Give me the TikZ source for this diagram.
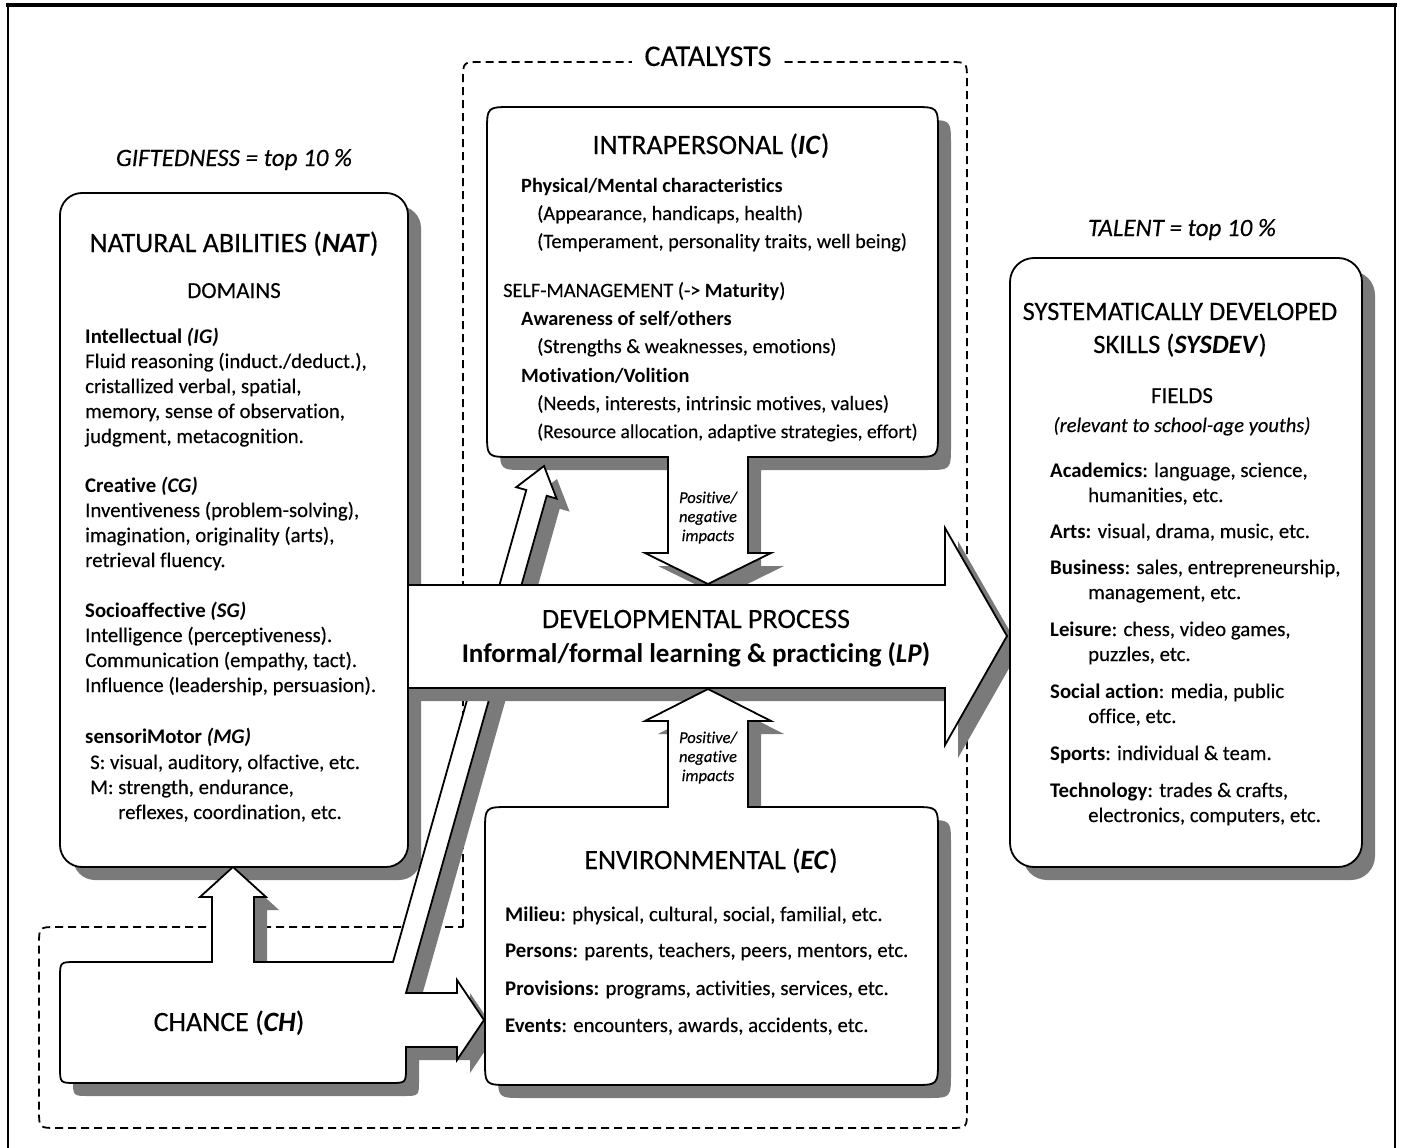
\documentclass[tikz,border=0pt]{standalone}
\usepackage{fontspec}
\setmainfont{Carlito}[Ligatures=NoCommon,UprightFeatures={FakeBold=0.25},ItalicFeatures={FakeBold=0.25}]
\newcommand\pChance{(60,1067) -- (60,978) .. controls (60,962) .. (76,962) -- (212,962) -- (212,897) -- (200,897) -- (233,867) -- (266,897) -- (254,897) -- (254,962) -- (393,962) -- (526.3,490) -- (516.2,487.2) -- (544,466) -- (556.6,498.6) -- (546.7,495.8) -- (406,993) -- (457,993) -- (457,980) -- (484,1020) -- (457,1060) -- (457,1047) -- (406,1047) -- (406,1067) .. controls (406,1083) .. (390,1083) -- (76,1083) .. controls (60,1083) .. (60,1067) -- cycle}
\newcommand\pIC{(512,107) -- (913,107) .. controls (938,107) .. (938,132) -- (938,432) .. controls (938,457) .. (913,457) -- (748,457) -- (748,553) -- (771,553) -- (708,584) -- (645,553) -- (668,553) -- (668,457) -- (512,457) .. controls (487,457) .. (487,432) -- (487,132) .. controls (487,107) .. (512,107) -- cycle}
\newcommand\pEC{(510,807) -- (668,807) -- (668,721) -- (645,721) -- (708,689) -- (771,721) -- (748,721) -- (748,807) -- (913,807) .. controls (938,807) .. (938,832) -- (938,1060) .. controls (938,1085) .. (913,1085) -- (510,1085) .. controls (485,1085) .. (485,1060) -- (485,832) .. controls (485,807) .. (510,807) -- cycle}
\newcommand\pDP{(407,585) -- (945,585) -- (945,528) -- (1007,636) -- (945,745) -- (945,688) -- (407,688) -- cycle}
\newcommand\pNat{(60,193) rectangle (408,867)}
\newcommand\pSys{(1010,258) rectangle (1362,867)}
\begin{document}
\begin{tikzpicture}[x=1pt,y=-1pt,
  shape box/.style={draw=black,line width=1.8,fill=white,line join=miter},
  shad/.style={fill=black!52,draw=none},
  dashb/.style={draw=black,line width=1.8,dash pattern=on 8pt off 5pt},
  ttl/.style={inner sep=0,anchor=base,font=\fontsize{28}{32}\selectfont},
  sub/.style={inner sep=0,anchor=base,font=\fontsize{23}{26}\selectfont},
  body/.style={inner sep=0,anchor=base west,font=\fontsize{20.8}{24}\selectfont},
  icbody/.style={inner sep=0,anchor=base west,font=\fontsize{20.3}{24}\selectfont},
  imp/.style={inner sep=0,anchor=base,font=\fontsize{16.5}{18}\selectfont\itshape},
  lvl/.style={inner sep=0,anchor=base,font=\fontsize{25}{28}\selectfont\itshape}]
\useasboundingbox (0,0) rectangle (1401,1148);
\fill[white] (0,0) rectangle (1401,1148);
% frame
\draw[line width=1.5] (8,1148) -- (8,5);
\draw[line width=1.5] (1395,5) -- (1395,1148);
\draw[line width=3.5] (6,5) -- (1397,5);
% dashed catalysts/chance boundary
\draw[dashb] (463,927) -- (463,80) .. controls (463,62) .. (481,62) -- (949,62) .. controls (967,62) .. (967,80) -- (967,1110) .. controls (967,1128) .. (949,1128) -- (57,1128) .. controls (39,1128) .. (39,1110) -- (39,945) .. controls (39,927) .. (57,927) -- cycle;
% shadows
\begin{scope}[shift={(13,13)}]
  \fill[shad] \pChance;
  \fill[shad] \pIC;
  \fill[shad] \pEC;
  \fill[shad,rounded corners=22] \pNat;
  \fill[shad,rounded corners=24] \pSys;
\end{scope}
% chance shape
\draw[shape box] \pChance;
% developmental process arrow
\fill[shad,shift={(13,13)}] \pDP;
\draw[shape box] \pDP;
% boxes
\draw[shape box,rounded corners=22] \pNat;
\draw[shape box] \pIC;
\draw[shape box] \pEC;
\draw[shape box,rounded corners=24] \pSys;

% outside labels
\node[ttl,font=\fontsize{30}{34}\selectfont,fill=white,inner xsep=12,inner ysep=3] (cat) at (708,66) {CATALYSTS};
\node[lvl] (gift) at (234,166) {GIFTEDNESS = top 10 \%};
\node[lvl] (tal) at (1182,236) {TALENT = top 10 \%};

% NAT
\node[ttl] (natT) at (234,252) {NATURAL ABILITIES (\textbf{\textit{NAT}})};
\node[sub] (dom) at (234,298) {DOMAINS};
\node[body] (n1) at (85,343) {\textbf{Intellectual \textit{(IG)}}};
\node[body] (n2) at (85,368) {Fluid reasoning (induct./deduct.),};
\node[body] (n3) at (85,393) {cristallized verbal, spatial,};
\node[body] (n4) at (85,418) {memory, sense of observation,};
\node[body] (n5) at (85,443) {judgment, metacognition.};
\node[body] (n6) at (85,492) {\textbf{Creative \textit{(CG)}}};
\node[body] (n7) at (85,517) {Inventiveness (problem-solving),};
\node[body] (n8) at (85,542) {imagination, originality (arts),};
\node[body] (n9) at (85,567) {retrieval fluency.};
\node[body] (n10) at (85,617) {\textbf{Socioaffective \textit{(SG)}}};
\node[body] (n11) at (85,642) {Intelligence (perceptiveness).};
\node[body] (n12) at (85,667) {Communication (empathy, tact).};
\node[body] (n13) at (85,692) {Influence (leadership, persuasion).};
\node[body] (n14) at (85,743) {\textbf{sensoriMotor \textit{(MG)}}};
\node[body] (n15) at (90,769) {S: visual, auditory, olfactive, etc.};
\node[body] (n16) at (90,794) {M: strength, endurance,};
\node[body] (n17) at (118,819) {reflexes, coordination, etc.};

% IC
\node[ttl] (icT) at (711,154) {INTRAPERSONAL (\textbf{\textit{IC}})};
\node[icbody] (i1) at (521,192) {\textbf{Physical/Mental characteristics}};
\node[icbody] (i2) at (537,220) {(Appearance, handicaps, health)};
\node[icbody] (i3) at (537,248) {(Temperament, personality traits, well being)};
\node[icbody] (i4) at (503,297) {SELF-MANAGEMENT (-> \textbf{Maturity})};
\node[icbody] (i5) at (521,325) {\textbf{Awareness of self/others}};
\node[icbody] (i6) at (537,353) {(Strengths \& weaknesses, emotions)};
\node[icbody] (i7) at (521,382) {\textbf{Motivation/Volition}};
\node[icbody] (i8) at (537,410) {(Needs, interests, intrinsic motives, values)};
\node[icbody,font=\fontsize{19.6}{24}\selectfont] (i9) at (537,438) {(Resource allocation, adaptive strategies, effort)};
\node[imp] (p1) at (708,503) {Positive/};
\node[imp] (p2) at (708,522) {negative};
\node[imp] (p3) at (708,541) {impacts};

% DP
\node[ttl] (dpT) at (696,628) {DEVELOPMENTAL PROCESS};
\node[ttl,font=\fontsize{27}{30}\selectfont\bfseries] (dpS) at (696,662) {Informal/formal learning \& practicing (\textit{LP})};

% EC
\node[imp] (q1) at (708,743) {Positive/};
\node[imp] (q2) at (708,762) {negative};
\node[imp] (q3) at (708,781) {impacts};
\node[ttl] (ecT) at (711,869) {ENVIRONMENTAL (\textbf{\textit{EC}})};
\node[body] (e1) at (505,921) {\textbf{Milieu}: physical, cultural, social, familial, etc.};
\node[body] (e2) at (505,957) {\textbf{Persons}: parents, teachers, peers, mentors, etc.};
\node[body] (e3) at (505,995) {\textbf{Provisions:} programs, activities, services, etc.};
\node[body] (e4) at (505,1032) {\textbf{Events}: encounters, awards, accidents, etc.};

% CHANCE
\node[ttl] (chT) at (229,1031) {CHANCE (\textbf{\textit{CH}})};

% SYSDEV
\node[ttl,font=\fontsize{26.5}{30}\selectfont] (sy1) at (1180,320) {SYSTEMATICALLY DEVELOPED};
\node[ttl,font=\fontsize{26.5}{30}\selectfont] (sy2) at (1180,353) {SKILLS (\textbf{\textit{SYSDEV}})};
\node[sub] (fld) at (1182,403) {FIELDS};
\node[body,anchor=base,font=\fontsize{20.5}{24}\selectfont\itshape] (rel) at (1182,432) {(relevant to school-age youths)};
\node[body] (s1) at (1050,477) {\textbf{Academics}: language, science,};
\node[body] (s2) at (1088,502) {humanities, etc.};
\node[body] (s3) at (1050,538) {\textbf{Arts:} visual, drama, music, etc.};
\node[body] (s4) at (1050,574) {\textbf{Business}: sales, entrepreneurship,};
\node[body] (s5) at (1088,599) {management, etc.};
\node[body] (s6) at (1050,636) {\textbf{Leisure}: chess, video games,};
\node[body] (s7) at (1088,661) {puzzles, etc.};
\node[body] (s8) at (1050,698) {\textbf{Social action}: media, public};
\node[body] (s9) at (1088,723) {office, etc.};
\node[body] (s10) at (1050,760) {\textbf{Sports}: individual \& team.};
\node[body] (s11) at (1050,797) {\textbf{Technology}: trades \& crafts,};
\node[body] (s12) at (1088,822) {electronics, computers, etc.};
\end{tikzpicture}
\end{document}
